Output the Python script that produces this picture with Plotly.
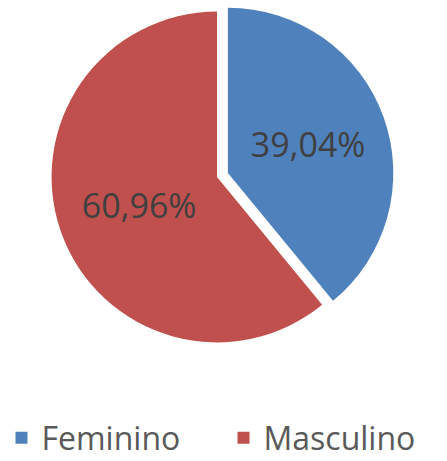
import plotly.graph_objects as go

sexo = ["Feminino", "Masculino"]
porcentaje = [39.04, 60.96]
colores = ["#4F81BD", "#C0504D"]
separacion = [0.07, 0]

fig = go.Figure(go.Pie(
    labels=sexo,
    values=porcentaje,
    marker=dict(colors=colores, line=dict(width=0)),
    pull=separacion,
    sort=False,
    direction="clockwise",
    rotation=0,
    texttemplate="%{percent:.2%}",
    textposition="inside",
    insidetextorientation="horizontal",
    textfont=dict(family="Open Sans", size=34, color="#404040"),
    domain=dict(x=[0.0828, 0.8881], y=[0.2321, 1]),
    hoverinfo="label+percent",
))

fig.update_layout(
    width=447,
    height=461,
    separators=",.",
    plot_bgcolor="white",
    paper_bgcolor="white",
    font=dict(family="Open Sans", size=32, color="#595959"),
    showlegend=True,
    legend=dict(
        orientation="h",
        x=0.5,
        xanchor="center",
        y=0.05,
        yanchor="middle",
        entrywidth=177,
        font=dict(family="Open Sans", size=32, color="#595959"),
    ),
    margin=dict(l=0, r=0, t=0, b=0, autoexpand=False),
)

# quitar el margen por defecto del body para que el grafico quede en (0, 0)
fig.write_html(
    "out.html",
    config={"displayModeBar": False},
    post_script="document.body.style.margin='0';",
)
